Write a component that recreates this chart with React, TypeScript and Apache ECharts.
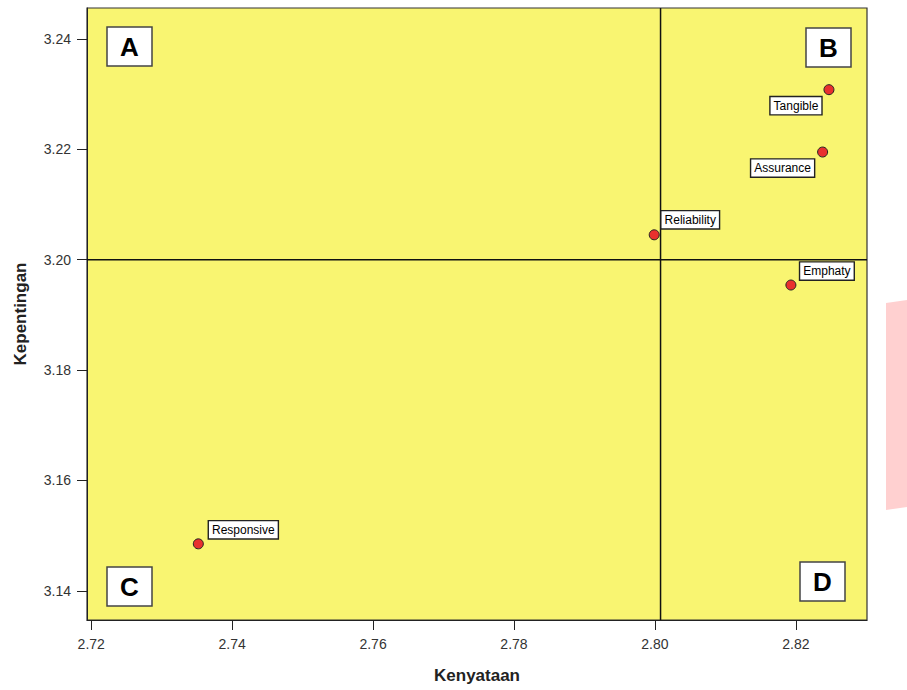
import React, { useEffect, useRef } from "react";
import * as echarts from "echarts";

const dimensionNames = ["Tangible", "Assurance", "Reliability", "Emphaty", "Responsive"];
const kenyataan = [2.8247, 2.8238, 2.7999, 2.8193, 2.7352];
const kepentingan = [3.2308, 3.2195, 3.2045, 3.1954, 3.1485];
const labelOffsets: [number, number][] = [[-33, 16], [-40, 16], [36, -15], [36, -14], [45, -14]];
const meanKenyataan = 2.8008;
const meanKepentingan = 3.2;
const xTickValues = [2.72, 2.74, 2.76, 2.78, 2.8, 2.82];
const yTickValues = [3.14, 3.16, 3.18, 3.2, 3.22, 3.24];
const xRange = { min: 2.7194, max: 2.8301 };
const yRange = { min: 3.1347, max: 3.2456 };

export default function App() {
  const ref = useRef<HTMLDivElement>(null);
  useEffect(() => {
    if (!ref.current) return;
    const chart = echarts.init(ref.current, null, { renderer: "svg" });
    const data = dimensionNames.map((n, i) => ({
      name: n,
      value: [kenyataan[i], kepentingan[i]],
      label: { offset: labelOffsets[i] },
    }));
    const quadBox = (letter: string, x: number, y: number) => ({
      type: "group",
      x,
      y,
      children: [
        {
          type: "rect",
          shape: { x: 0, y: 0, width: 45, height: 39 },
          style: { fill: "#ffffff", stroke: "#444", lineWidth: 1.5 },
        },
        {
          type: "text",
          x: 22.5,
          y: 20,
          style: {
            text: letter,
            fill: "#000",
            font: "bold 26px 'Liberation Sans', Arial, sans-serif",
            align: "center",
            verticalAlign: "middle",
          },
        },
      ],
    });
    const refLineStyle = { color: "#111", width: 1.5, type: "solid" };
    chart.setOption({
      animation: false,
      backgroundColor: "#ffffff",
      grid: {
        left: 87,
        top: 8,
        right: 40,
        bottom: 70,
        show: true,
        backgroundColor: "#F9F571",
        borderColor: "#333",
        borderWidth: 1.2,
      },
      xAxis: {
        type: "value",
        min: xRange.min,
        max: xRange.max,
        splitLine: { show: false },
        axisLine: { show: true, lineStyle: { color: "#222" } },
        axisTick: { show: true, length: 10, lineStyle: { color: "#222" }, customValues: xTickValues },
        axisLabel: {
          color: "#333",
          fontSize: 14,
          fontFamily: "'Liberation Sans', Arial, sans-serif",
          margin: 17,
          showMinLabel: true,
          showMaxLabel: true,
          customValues: xTickValues,
          formatter: (v: number) => v.toFixed(2),
        },
        name: "Kenyataan",
        nameLocation: "middle",
        nameGap: 47,
        nameTextStyle: {
          color: "#222",
          fontSize: 17,
          fontWeight: "bold",
          fontFamily: "'Liberation Sans', Arial, sans-serif",
        },
      },
      yAxis: {
        type: "value",
        min: yRange.min,
        max: yRange.max,
        splitLine: { show: false },
        axisLine: { show: true, lineStyle: { color: "#222" } },
        axisTick: { show: true, length: 10, lineStyle: { color: "#222" }, customValues: yTickValues },
        axisLabel: {
          color: "#333",
          fontSize: 14,
          fontFamily: "'Liberation Sans', Arial, sans-serif",
          margin: 16,
          showMinLabel: true,
          showMaxLabel: true,
          customValues: yTickValues,
          formatter: (v: number) => v.toFixed(2),
        },
        name: "Kepentingan",
        nameLocation: "middle",
        nameGap: 58,
        nameTextStyle: {
          color: "#222",
          fontSize: 17,
          fontWeight: "bold",
          fontFamily: "'Liberation Sans', Arial, sans-serif",
        },
      },
      series: [
        {
          type: "line",
          data: [[meanKenyataan, yRange.min], [meanKenyataan, yRange.max]],
          symbol: "none",
          silent: true,
          lineStyle: refLineStyle,
          z: 2,
        },
        {
          type: "line",
          data: [[xRange.min, meanKepentingan], [xRange.max, meanKepentingan]],
          symbol: "none",
          silent: true,
          lineStyle: refLineStyle,
          z: 2,
        },
        {
          type: "scatter",
          symbol: "circle",
          symbolSize: 10,
          itemStyle: { color: "#E8302E", borderColor: "#222", borderWidth: 1, opacity: 1 },
          data,
          label: {
            show: true,
            position: "inside",
            formatter: "{b}",
            color: "#000",
            fontSize: 12,
            fontFamily: "'Liberation Sans', Arial, sans-serif",
            backgroundColor: "#ffffff",
            borderColor: "#222",
            borderWidth: 1.4,
            padding: [3, 3, 2, 3],
          },
          z: 5,
        },
      ],
      graphic: [
        {
          type: "polygon",
          shape: { points: [[886, 303], [920, 298], [920, 505], [886, 510]] },
          style: { fill: "#FFD0D0" },
          z: -1,
        },
        quadBox("A", 107, 27),
        quadBox("B", 806, 28),
        quadBox("C", 107, 567),
        quadBox("D", 800, 562),
      ],
    });
    return () => chart.dispose();
  }, []);
  return (
    <div
      ref={ref}
      style={{ position: "fixed", left: 0, top: 0, width: 907, height: 690 }}
    />
  );
}
